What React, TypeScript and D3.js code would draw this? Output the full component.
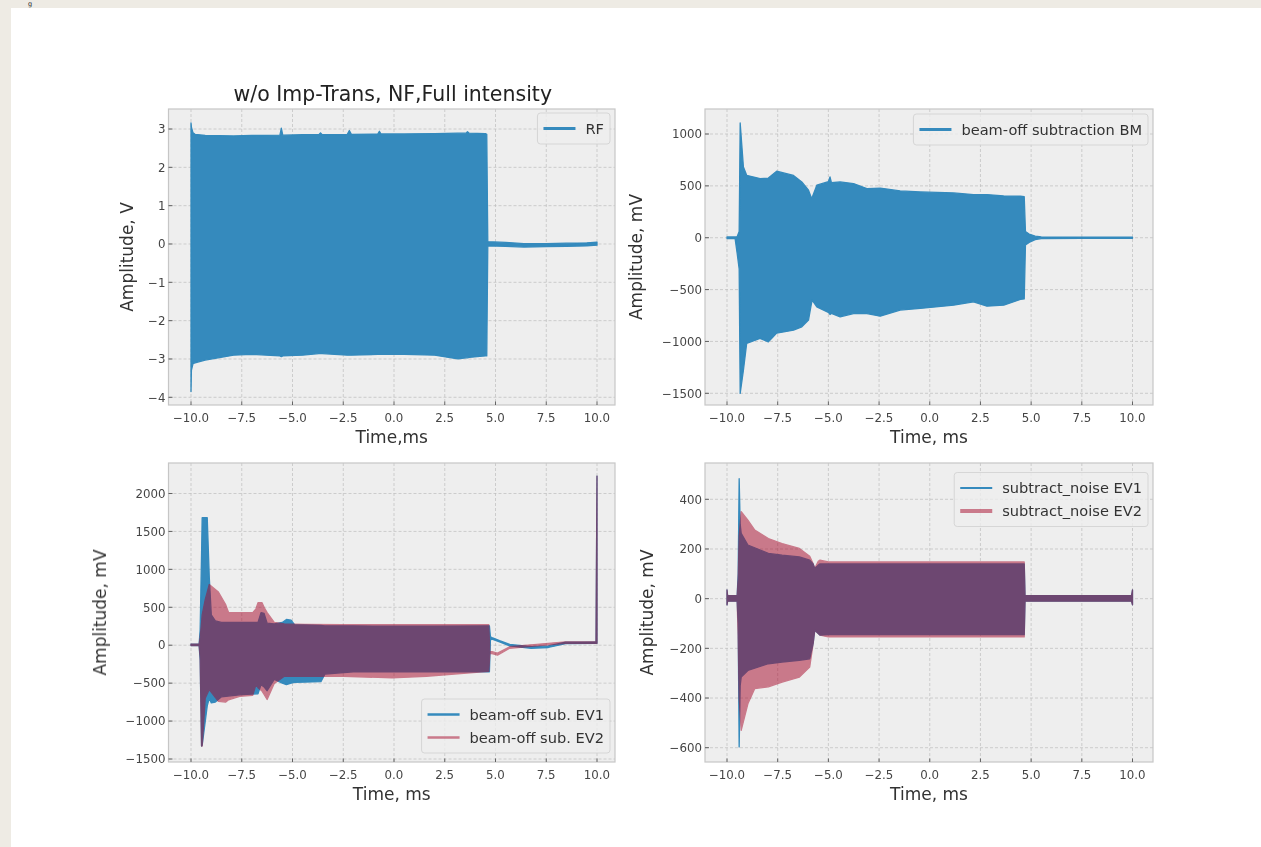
import React from 'react';
import * as d3 from 'd3';

// ---------------- data ----------------
const timeTicks = [-10, -7.5, -5, -2.5, 0, 2.5, 5, 7.5, 10];
const rfTicks = [-4, -3, -2, -1, 0, 1, 2, 3];
const bmTicks = [-1500, -1000, -500, 0, 500, 1000];
const evTicks = [-1500, -1000, -500, 0, 500, 1000, 1500, 2000];
const noiseTicks = [-600, -400, -200, 0, 200, 400];

// RF signal envelope (V)
const rfTime = [-10.0, -9.98, -9.9, -9.8, -9.3, -7.9, -7.0, -5.62, -5.55, -5.48, -4.5, -3.7, -3.62, -3.54, -2.3, -2.2, -2.1, -0.8, -0.72, -0.64, 0.5, 2.0, 3.15, 3.55, 3.62, 3.7, 4.5, 4.57, 4.62, 5.5, 6.4, 7.5, 8.5, 9.5, 10.0];
const rfUpper = [3.16, 3.05, 2.9, 2.86, 2.83, 2.82, 2.83, 2.84, 3.02, 2.84, 2.85, 2.85, 2.9, 2.85, 2.86, 2.96, 2.86, 2.87, 2.94, 2.87, 2.87, 2.88, 2.89, 2.89, 2.93, 2.89, 2.88, 2.86, 0.06, 0.04, 0.01, 0.01, 0.02, 0.03, 0.05];
const rfLower = [-3.85, -3.3, -3.12, -3.1, -3.03, -2.9, -2.88, -2.92, -2.94, -2.92, -2.9, -2.86, -2.86, -2.86, -2.9, -2.9, -2.9, -2.88, -2.88, -2.88, -2.88, -2.9, -3.0, -2.97, -2.97, -2.96, -2.92, -2.92, -0.05, -0.06, -0.08, -0.07, -0.06, -0.05, -0.03];

// beam-off subtraction BM envelope (mV)
const bmTime = [-10.0, -9.6, -9.5, -9.4, -9.35, -9.19, -9.03, -8.37, -7.96, -7.55, -6.72, -6.31, -5.98, -5.85, -5.8, -5.57, -5.0, -4.92, -4.85, -4.42, -3.76, -3.1, -2.44, -1.46, -0.47, 1.18, 2.16, 2.82, 3.65, 4.47, 4.66, 4.72, 4.9, 5.2, 5.5, 7.5, 10.0];
const bmUpper = [8, 8, 10, 60, 1106, 682, 602, 570, 575, 641, 600, 538, 458, 390, 387, 506, 540, 586, 530, 538, 522, 474, 479, 451, 442, 432, 416, 416, 403, 400, 395, 60, 35, 15, 8, 6, 6];
const bmLower = [-8, -8, -150, -300, -1501, -1277, -1019, -971, -1004, -920, -891, -859, -794, -650, -602, -666, -720, -740, -730, -763, -731, -731, -756, -698, -682, -650, -618, -660, -650, -595, -590, -70, -45, -18, -8, -6, -6];

// beam-off sub. EV1 envelope (mV)
const ev1Time = [-10.0, -9.6, -9.55, -9.48, -9.45, -9.2, -9.1, -9.0, -8.8, -8.5, -7.5, -6.7, -6.55, -6.4, -6.25, -5.9, -5.5, -5.3, -5.07, -4.9, -3.6, -3.4, -2.0, 0.0, 2.0, 4.7, 4.75, 4.83, 5.2, 5.7, 6.75, 7.6, 8.45, 9.95, 10.0];
const ev1Upper = [15, 15, 200, 1200, 1680, 1680, 900, 400, 320, 300, 300, 300, 430, 420, 290, 280, 300, 340, 330, 270, 260, 255, 255, 250, 250, 255, 110, 100, 60, 10, -20, -10, 40, 45, 2230];
const ev1Lower = [-5, -5, -200, -1330, -1320, -800, -700, -760, -750, -680, -650, -640, -520, -550, -600, -450, -500, -520, -500, -490, -480, -380, -350, -350, -350, -350, 70, 80, 45, -10, -40, -30, 20, 25, 25];

// beam-off sub. EV2 envelope (mV)
const ev2Time = [-10.0, -9.6, -9.55, -9.48, -9.45, -9.3, -9.1, -8.65, -8.3, -8.15, -7.6, -6.96, -6.8, -6.7, -6.5, -6.4, -6.25, -5.9, -5.4, -4.4, -2.5, -0.1, 1.6, 4.67, 4.72, 4.83, 5.1, 5.7, 6.75, 8.45, 9.95, 10.0];
const ev2Upper = [15, 15, 100, 300, 400, 600, 800, 700, 540, 430, 430, 430, 480, 560, 560, 500, 430, 300, 280, 275, 270, 270, 270, 270, -80, -85, -105, -20, 5, 45, 45, 2230];
const ev2Lower = [-5, -5, -150, -1330, -1330, -700, -585, -740, -750, -720, -673, -662, -518, -560, -605, -650, -716, -503, -409, -409, -409, -431, -409, -343, -110, -110, -130, -40, -15, 25, 25, 25];

// subtract_noise EV1 envelope (mV)
const noise1Time = [-10.0, -9.97, -9.5, -9.45, -9.4, -9.35, -9.3, -8.97, -7.96, -7.28, -6.43, -5.92, -5.75, -5.67, -5.5, -5.41, -5.0, 0.0, 4.66, 4.7, 9.95, 10.0];
const noise1Upper = [35, 12, 12, 100, 483, 300, 263, 216, 182, 175, 168, 155, 140, 122, 135, 140, 140, 140, 140, 12, 12, 35];
const noise1Lower = [-25, -10, -10, -100, -597, -350, -316, -289, -262, -255, -248, -242, -180, -127, -140, -147, -145, -145, -145, -10, -10, -25];

// subtract_noise EV2 envelope (mV)
const noise2Time = [-10.0, -9.97, -9.5, -9.45, -9.4, -9.3, -8.97, -8.63, -7.96, -7.28, -6.43, -5.92, -5.75, -5.67, -5.5, -5.41, -5.0, 0.0, 4.66, 4.7, 9.95, 10.0];
const noise2Upper = [35, 12, 12, 80, 250, 350, 316, 276, 242, 222, 202, 171, 140, 122, 150, 155, 148, 148, 148, 12, 12, 35];
const noise2Lower = [-25, -10, -10, -150, -400, -530, -423, -362, -355, -336, -316, -275, -180, -127, -140, -147, -154, -154, -154, -10, -10, -25];

// ---------------- styling / layout ----------------
const W = 1261;
const H = 847;
const BLUE = '#348ABD';
const RED = '#A60628';
const FONT = '"DejaVu Sans", Verdana, sans-serif';
const TICK_FS = 11.8;
const LABEL_FS = 17;
const TITLE_FS = 20.5;
const LEGEND_FS = 14.6;

type Series = { t: number[]; up: number[]; lo: number[]; color: string; alpha: number; label: string; handleW: number };
type PanelCfg = {
  id: string;
  frame: [number, number, number, number];
  xPix: [number, number];
  yRef: [number, number, number, number];
  yTicks: number[];
  yFmt: (v: number) => string;
  title?: string;
  xLabel: string;
  yLabel: string;
  yLabelX: number;
  series: Series[];
  legend: { right: number; top?: number; bottom?: number };
};

const fmt1 = d3.format('.1f');
const fmt0 = d3.format('d');

const panels: PanelCfg[] = [
  {
    id: 'a',
    frame: [168.5, 109, 615, 405],
    xPix: [191, 597],
    yRef: [3, 129, -4, 397.3],
    yTicks: rfTicks,
    yFmt: fmt0,
    title: 'w/o Imp-Trans, NF,Full intensity',
    xLabel: 'Time,ms',
    yLabel: 'Amplitude, V',
    yLabelX: 127,
    series: [{ t: rfTime, up: rfUpper, lo: rfLower, color: BLUE, alpha: 1, label: 'RF', handleW: 2.8 }],
    legend: { right: 5, top: 4 },
  },
  {
    id: 'b',
    frame: [705, 109, 1153, 405],
    xPix: [727, 1132.5],
    yRef: [1000, 134, -1500, 393.3],
    yTicks: bmTicks,
    yFmt: fmt0,
    xLabel: 'Time, ms',
    yLabel: 'Amplitude, mV',
    yLabelX: 636,
    series: [{ t: bmTime, up: bmUpper, lo: bmLower, color: BLUE, alpha: 1, label: 'beam-off subtraction BM', handleW: 2.8 }],
    legend: { right: 5, top: 5 },
  },
  {
    id: 'c',
    frame: [168.5, 463, 615, 762],
    xPix: [191, 597],
    yRef: [2000, 493.5, -1500, 759],
    yTicks: evTicks,
    yFmt: fmt0,
    xLabel: 'Time, ms',
    yLabel: 'Amplitude, mV',
    yLabelX: 100,
    series: [
      { t: ev1Time, up: ev1Upper, lo: ev1Lower, color: BLUE, alpha: 1, label: 'beam-off sub. EV1', handleW: 2.5 },
      { t: ev2Time, up: ev2Upper, lo: ev2Lower, color: RED, alpha: 0.5, label: 'beam-off sub. EV2', handleW: 2.5 },
    ],
    legend: { right: 5, bottom: 9 },
  },
  {
    id: 'd',
    frame: [705, 463, 1153, 762],
    xPix: [727, 1132.5],
    yRef: [400, 499.3, -600, 747.7],
    yTicks: noiseTicks,
    yFmt: fmt0,
    xLabel: 'Time, ms',
    yLabel: 'Amplitude, mV',
    yLabelX: 647,
    series: [
      { t: noise1Time, up: noise1Upper, lo: noise1Lower, color: BLUE, alpha: 1, label: 'subtract_noise EV1', handleW: 2 },
      { t: noise2Time, up: noise2Upper, lo: noise2Lower, color: RED, alpha: 0.5, label: 'subtract_noise EV2', handleW: 4 },
    ],
    legend: { right: 5, top: 9.5 },
  },
];

let measureCtx: CanvasRenderingContext2D | null = null;
function textWidth(s: string, size: number): number {
  if (typeof document !== 'undefined') {
    if (!measureCtx) measureCtx = document.createElement('canvas').getContext('2d');
    if (measureCtx) {
      measureCtx.font = `${size}px "DejaVu Sans"`;
      return measureCtx.measureText(s).width;
    }
  }
  return s.length * size * 0.6;
}

function Panel({ cfg }: { cfg: PanelCfg }) {
  const [x0, y0, x1, y1] = cfg.frame;
  const x = d3.scaleLinear().domain([-10, 10]).range(cfg.xPix);
  const y = d3.scaleLinear().domain([cfg.yRef[0], cfg.yRef[2]]).range([cfg.yRef[1], cfg.yRef[3]]);
  const clipId = `clip-${cfg.id}`;

  // legend geometry
  const pad = 6;
  const handleLen = 32;
  const gap = 10;
  const rowH = 23;
  const maxText = Math.max(...cfg.series.map((s) => textWidth(s.label, LEGEND_FS)));
  const boxW = pad + handleLen + gap + maxText + pad;
  const boxH = 8 + rowH * cfg.series.length;
  const boxX = x1 - cfg.legend.right - boxW;
  const boxY = cfg.legend.top !== undefined ? y0 + cfg.legend.top : y1 - cfg.legend.bottom! - boxH;

  return (
    <g>
      <defs>
        <clipPath id={clipId}>
          <rect x={x0} y={y0} width={x1 - x0} height={y1 - y0} />
        </clipPath>
      </defs>
      <rect x={x0} y={y0} width={x1 - x0} height={y1 - y0} fill="#eeeeee" />
      {/* grid */}
      <g stroke="#bdbdbd" strokeWidth={0.7} strokeDasharray="3 2">
        {timeTicks.map((t) => (
          <line key={'gx' + t} x1={x(t)} x2={x(t)} y1={y0} y2={y1} />
        ))}
        {cfg.yTicks.map((v) => (
          <line key={'gy' + v} x1={x0} x2={x1} y1={y(v)} y2={y(v)} />
        ))}
      </g>
      {/* data */}
      <g clipPath={`url(#${clipId})`}>
        {cfg.series.map((s, si) => {
          const idx = d3.range(s.t.length);
          const area = d3
            .area<number>()
            .x((i) => x(s.t[i]))
            .y0((i) => y(s.lo[i]))
            .y1((i) => y(s.up[i]));
          return (
            <g key={si} opacity={s.alpha}>
              <path d={area(idx) || ''} fill={s.color} stroke={s.color} strokeWidth={1.3} strokeLinejoin="round" />
            </g>
          );
        })}
      </g>
      {/* frame */}
      <rect x={x0} y={y0} width={x1 - x0} height={y1 - y0} fill="none" stroke="#c6c6c6" strokeWidth={1.2} />
      {/* ticks */}
      <g stroke="#555" strokeWidth={0.9}>
        {timeTicks.map((t) => (
          <line key={'tx' + t} x1={x(t)} x2={x(t)} y1={y1} y2={y1 - 3.5} />
        ))}
        {cfg.yTicks.map((v) => (
          <line key={'ty' + v} x1={x0} x2={x0 + 4} y1={y(v)} y2={y(v)} />
        ))}
      </g>
      <g fontFamily={FONT} fontSize={TICK_FS} fill="#444">
        {timeTicks.map((t) => (
          <text key={'lx' + t} x={x(t)} y={y1 + 17} textAnchor="middle">
            {fmt1(t)}
          </text>
        ))}
        {cfg.yTicks.map((v) => (
          <text key={'ly' + v} x={x0 - 3} y={y(v)} dy="0.36em" textAnchor="end">
            {cfg.yFmt(v)}
          </text>
        ))}
      </g>
      {/* axis labels */}
      <text x={(x0 + x1) / 2} y={y1 + 38} textAnchor="middle" fontFamily={FONT} fontSize={LABEL_FS} fill="#333">
        {cfg.xLabel}
      </text>
      <text
        transform={`translate(${cfg.yLabelX},${(y0 + y1) / 2}) rotate(-90)`}
        dy="0.36em"
        textAnchor="middle"
        fontFamily={FONT}
        fontSize={LABEL_FS}
        fill="#333"
      >
        {cfg.yLabel}
      </text>
      {cfg.title && (
        <text x={(x0 + x1) / 2 + 1} y={101} textAnchor="middle" fontFamily={FONT} fontSize={TITLE_FS} fill="#222">
          {cfg.title}
        </text>
      )}
      {/* legend */}
      <g>
        <rect x={boxX} y={boxY} width={boxW} height={boxH} rx={3} fill="#eeeeee" fillOpacity={0.8} stroke="#d2d2d2" strokeWidth={0.9} />
        {cfg.series.map((s, i) => {
          const ry = boxY + 4 + rowH * i + rowH / 2;
          return (
            <g key={'lg' + i}>
              <line
                x1={boxX + pad}
                x2={boxX + pad + handleLen}
                y1={ry}
                y2={ry}
                stroke={s.color}
                strokeOpacity={s.alpha}
                strokeWidth={s.handleW}
              />
              <text x={boxX + pad + handleLen + gap} y={ry} dy="0.36em" fontFamily={FONT} fontSize={LEGEND_FS} fill="#333">
                {s.label}
              </text>
            </g>
          );
        })}
      </g>
    </g>
  );
}

export default function App() {
  return (
    <svg width={W} height={H} viewBox={`0 0 ${W} ${H}`} style={{ position: 'absolute', left: 0, top: 0, display: 'block' }}>
      <defs>
        <filter id="soft" x="-2%" y="-2%" width="104%" height="104%">
          <feGaussianBlur stdDeviation={0.5} />
        </filter>
      </defs>
      <rect x={0} y={0} width={W} height={H} fill="#eeebe4" />
      <text x={28} y={6.4} fontFamily={FONT} fontSize={6.5} fill="#2a2a2a">
        g
      </text>
      <rect x={11} y={8} width={W - 11} height={H - 8} fill="#ffffff" />
      <g filter="url(#soft)">
        {panels.map((p) => (
          <Panel key={p.id} cfg={p} />
        ))}
      </g>
    </svg>
  );
}
